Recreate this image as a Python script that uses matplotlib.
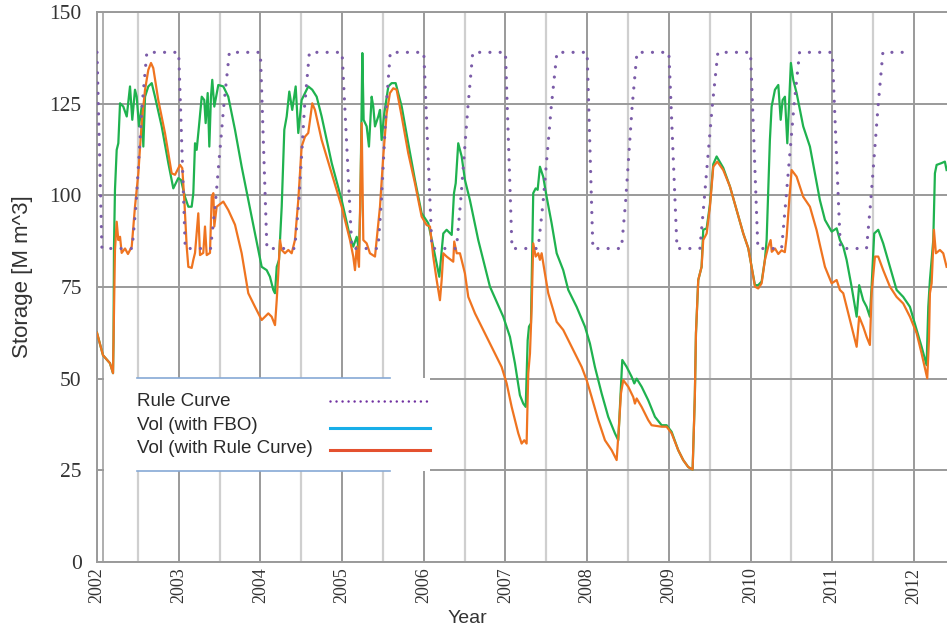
import matplotlib
matplotlib.use("Agg")
import matplotlib.pyplot as plt
from matplotlib.patches import Rectangle

# rule curve breakpoints (year, storage)
rule_year = [2002.00, 2002.06, 2002.43, 2002.48, 2002.55, 2002.61, 2003.00, 2003.08, 2003.39, 2003.45, 2003.55, 2003.62,
             2004.00, 2004.08, 2004.42, 2004.47, 2004.54, 2004.60, 2005.00, 2005.12, 2005.44, 2005.48, 2005.54, 2005.59,
             2006.00, 2006.10, 2006.40, 2006.45, 2006.54, 2006.60, 2007.00, 2007.08, 2007.40, 2007.46, 2007.56, 2007.63,
             2008.00, 2008.07, 2008.42, 2008.47, 2008.55, 2008.61, 2009.00, 2009.10, 2009.38, 2009.43, 2009.53, 2009.60,
             2010.00, 2010.09, 2010.38, 2010.43, 2010.53, 2010.60, 2011.00, 2011.10, 2011.42, 2011.47, 2011.56, 2011.62,
             2011.98]
rule_vol = [139, 85.5, 85.5, 98, 124, 139, 139, 85.5, 85.5, 98, 124, 139,
            139, 85.5, 85.5, 98, 124, 139, 139, 85.5, 85.5, 98, 124, 139,
            139, 85.5, 85.5, 98, 124, 139, 139, 85.5, 85.5, 98, 124, 139,
            139, 85.5, 85.5, 98, 124, 139, 139, 85.5, 85.5, 98, 124, 139,
            139, 85.5, 85.5, 98, 124, 139, 139, 85.5, 85.5, 98, 124, 139,
            139]

# storage with rule curve operation
rc_year = [2002.000, 2002.073, 2002.159, 2002.196, 2002.220, 2002.241, 2002.261, 2002.282, 2002.302, 2002.343, 2002.379,
           2002.425, 2002.465, 2002.506, 2002.547, 2002.588, 2002.628, 2002.661, 2002.689, 2002.750, 2002.832, 2002.914,
           2002.955, 2003.016, 2003.044, 2003.069, 2003.098, 2003.118, 2003.159, 2003.179, 2003.200, 2003.240, 2003.261,
           2003.301, 2003.322, 2003.343, 2003.383, 2003.404, 2003.424, 2003.436, 2003.465, 2003.546, 2003.607, 2003.689,
           2003.771, 2003.852, 2003.934, 2004.016, 2004.097, 2004.138, 2004.179, 2004.200, 2004.219, 2004.240, 2004.261,
           2004.301, 2004.342, 2004.383, 2004.423, 2004.464, 2004.505, 2004.546, 2004.586, 2004.635, 2004.668, 2004.750,
           2004.873, 2004.995, 2005.097, 2005.137, 2005.158, 2005.179, 2005.207, 2005.240, 2005.260, 2005.301, 2005.341,
           2005.403, 2005.423, 2005.464, 2005.504, 2005.546, 2005.586, 2005.627, 2005.668, 2005.730, 2005.810, 2005.892,
           2005.974, 2006.035, 2006.076, 2006.116, 2006.158, 2006.198, 2006.219, 2006.239, 2006.280, 2006.361, 2006.373,
           2006.403, 2006.443, 2006.504, 2006.545, 2006.627, 2006.790, 2006.953, 2007.015, 2007.076, 2007.157, 2007.198,
           2007.230, 2007.259, 2007.279, 2007.300, 2007.321, 2007.340, 2007.370, 2007.401, 2007.422, 2007.443, 2007.483,
           2007.524, 2007.627, 2007.707, 2007.810, 2007.933, 2007.994, 2008.055, 2008.136, 2008.218, 2008.300, 2008.361,
           2008.389, 2008.414, 2008.442, 2008.503, 2008.564, 2008.585, 2008.606, 2008.667, 2008.748, 2008.789, 2008.912,
           2008.973, 2009.034, 2009.115, 2009.176, 2009.237, 2009.291, 2009.318, 2009.332, 2009.360, 2009.401, 2009.421,
           2009.463, 2009.503, 2009.544, 2009.593, 2009.666, 2009.748, 2009.830, 2009.911, 2009.972, 2010.013, 2010.054,
           2010.094, 2010.136, 2010.176, 2010.217, 2010.246, 2010.260, 2010.300, 2010.340, 2010.380, 2010.420, 2010.442,
           2010.474, 2010.503, 2010.564, 2010.645, 2010.727, 2010.809, 2010.849, 2010.911, 2010.993, 2011.054, 2011.094,
           2011.135, 2011.217, 2011.299, 2011.330, 2011.379, 2011.421, 2011.461, 2011.482, 2011.523, 2011.563, 2011.624,
           2011.706, 2011.788, 2011.869, 2011.951, 2012.033, 2012.094, 2012.163, 2012.184, 2012.196, 2012.217, 2012.245,
           2012.269, 2012.318, 2012.359, 2012.400]
rc_vol = [62.5, 56.4, 54.2, 51.5, 85.0, 92.8, 87.8, 88.7, 84.3, 85.5, 84.0,
          86.0, 96.9, 106.0, 119.8, 128.8, 134.2, 136.1, 134.7, 126.0, 117.0, 106.0,
          105.6, 108.3, 107.4, 98.7, 86.0, 80.5, 80.2, 82.4, 84.3, 95.1, 83.7,
          84.3, 91.5, 83.7, 84.3, 99.6, 100.6, 91.5, 96.9, 98.3, 96.0, 92.0,
          84.2, 73.3, 69.6, 66.0, 67.8, 66.9, 64.6, 71.4, 78.7, 87.8, 85.1,
          84.2, 85.1, 84.2, 87.8, 98.7, 113.3, 116.0, 117.0, 125.1, 123.3, 115.1,
          106.0, 96.9, 87.8, 83.3, 79.6, 86.0, 80.5, 119.7, 87.8, 86.9, 84.2,
          83.3, 87.8, 96.9, 110.6, 122.4, 127.9, 129.2, 128.8, 121.5, 111.5, 103.3,
          94.2, 91.9, 91.5, 83.3, 76.9, 71.4, 76.9, 84.2, 83.3, 81.9, 87.4,
          84.2, 84.2, 78.7, 72.3, 67.8, 60.5, 53.2, 48.7, 42.3, 35.1, 32.3,
          33.2, 32.3, 51.4, 56.9, 69.6, 86.9, 83.3, 84.2, 82.4, 84.2, 78.7,
          73.3, 65.5, 63.3, 58.7, 53.2, 49.6, 45.0, 38.7, 33.2, 30.5, 27.8,
          36.9, 46.0, 49.6, 47.8, 45.0, 43.2, 44.6, 42.3, 38.7, 37.3, 36.9,
          36.9, 35.1, 30.5, 27.8, 25.9, 25.2, 45.0, 62.4, 76.9, 80.5, 87.8,
          89.6, 96.9, 107.8, 109.2, 106.9, 102.4, 96.0, 89.6, 85.6, 80.5, 75.1,
          74.6, 76.0, 82.4, 86.0, 87.8, 84.6, 85.5, 84.0, 85.0, 84.5, 88.7,
          98.7, 106.9, 105.1, 99.6, 96.9, 90.5, 86.5, 80.5, 76.0, 76.9, 74.2,
          73.3, 66.0, 58.7, 66.9, 64.2, 61.4, 59.2, 73.3, 83.3, 83.3, 79.6,
          75.1, 72.3, 70.5, 66.9, 62.4, 56.9, 50.1, 60.5, 73.3, 76.0, 90.6,
          84.2, 85.1, 84.2, 80.5]

# storage with FBO operation
fbo_year = [2002.000, 2002.073, 2002.159, 2002.196, 2002.202, 2002.208, 2002.220, 2002.241, 2002.261, 2002.282, 2002.322,
            2002.364, 2002.404, 2002.432, 2002.465, 2002.486, 2002.514, 2002.547, 2002.567, 2002.588, 2002.628, 2002.670,
            2002.710, 2002.792, 2002.873, 2002.934, 2002.995, 2003.028, 2003.077, 2003.118, 2003.159, 2003.179, 2003.200,
            2003.220, 2003.248, 2003.282, 2003.313, 2003.330, 2003.355, 2003.375, 2003.395, 2003.411, 2003.436, 2003.485,
            2003.546, 2003.607, 2003.689, 2003.771, 2003.852, 2003.934, 2004.016, 2004.077, 2004.117, 2004.158, 2004.179,
            2004.200, 2004.228, 2004.261, 2004.293, 2004.322, 2004.354, 2004.390, 2004.432, 2004.464, 2004.505, 2004.546,
            2004.586, 2004.635, 2004.689, 2004.750, 2004.873, 2004.995, 2005.097, 2005.137, 2005.179, 2005.207, 2005.223,
            2005.248, 2005.264, 2005.301, 2005.329, 2005.362, 2005.382, 2005.403, 2005.443, 2005.464, 2005.484, 2005.517,
            2005.566, 2005.607, 2005.656, 2005.730, 2005.810, 2005.892, 2005.974, 2006.055, 2006.116, 2006.158, 2006.190,
            2006.239, 2006.280, 2006.342, 2006.370, 2006.391, 2006.422, 2006.464, 2006.504, 2006.565, 2006.667, 2006.810,
            2006.973, 2007.055, 2007.116, 2007.177, 2007.218, 2007.248, 2007.272, 2007.288, 2007.312, 2007.340, 2007.370,
            2007.394, 2007.422, 2007.462, 2007.504, 2007.565, 2007.627, 2007.707, 2007.769, 2007.871, 2007.973, 2008.034,
            2008.095, 2008.177, 2008.258, 2008.340, 2008.381, 2008.430, 2008.484, 2008.545, 2008.577, 2008.606, 2008.667,
            2008.748, 2008.830, 2008.912, 2008.973, 2009.034, 2009.115, 2009.176, 2009.237, 2009.291, 2009.318, 2009.332,
            2009.360, 2009.401, 2009.421, 2009.463, 2009.503, 2009.544, 2009.585, 2009.666, 2009.748, 2009.830, 2009.911,
            2009.972, 2010.013, 2010.054, 2010.094, 2010.136, 2010.176, 2010.197, 2010.237, 2010.258, 2010.299, 2010.340,
            2010.369, 2010.393, 2010.421, 2010.450, 2010.470, 2010.494, 2010.523, 2010.564, 2010.645, 2010.727, 2010.788,
            2010.849, 2010.911, 2010.993, 2011.054, 2011.094, 2011.135, 2011.176, 2011.237, 2011.299, 2011.330, 2011.379,
            2011.421, 2011.461, 2011.482, 2011.514, 2011.563, 2011.624, 2011.706, 2011.788, 2011.869, 2011.951, 2012.033,
            2012.094, 2012.155, 2012.176, 2012.196, 2012.237, 2012.257, 2012.278, 2012.339, 2012.379, 2012.400]
fbo_vol = [62.5, 56.4, 54.2, 51.5, 60.0, 86.0, 101.5, 112.4, 114.2, 125.1, 124.2,
           121.5, 129.7, 120.6, 128.8, 126.9, 118.8, 124.2, 113.3, 126.9, 129.7, 130.6,
           126.9, 118.8, 108.8, 101.9, 104.7, 104.2, 99.6, 96.9, 96.9, 100.6, 114.2,
           112.4, 118.8, 126.9, 126.0, 119.7, 127.9, 113.3, 126.9, 131.5, 124.2, 130.1,
           129.7, 126.9, 117.9, 107.8, 98.7, 89.6, 80.5, 79.6, 77.8, 74.2, 73.3,
           80.5, 82.4, 96.9, 117.9, 121.5, 128.3, 123.3, 129.7, 117.0, 126.0, 127.9,
           129.7, 128.8, 126.9, 121.5, 108.8, 98.7, 88.7, 86.0, 88.7, 85.1, 96.9,
           138.8, 120.6, 118.8, 113.3, 126.9, 124.2, 118.8, 121.5, 123.3, 115.1, 122.4,
           129.7, 130.6, 130.6, 124.2, 114.2, 104.2, 95.1, 92.4, 86.0, 81.4, 77.8,
           89.6, 90.6, 89.2, 100.6, 103.3, 114.2, 110.6, 104.2, 98.7, 87.8, 75.1,
           66.9, 61.4, 54.2, 45.5, 43.2, 42.3, 60.5, 64.2, 65.1, 100.6, 101.9,
           101.5, 107.8, 105.1, 99.6, 92.4, 84.2, 79.6, 74.2, 69.6, 64.2, 59.6,
           53.2, 46.0, 39.6, 35.1, 33.2, 55.1, 53.2, 50.5, 48.7, 50.0, 47.8,
           44.1, 39.6, 37.3, 37.3, 35.5, 30.5, 27.8, 25.9, 25.2, 45.0, 62.4,
           76.9, 80.5, 90.6, 91.0, 97.5, 108.5, 110.6, 107.5, 102.4, 96.0, 89.6,
           85.6, 80.5, 75.5, 75.5, 76.5, 82.4, 87.8, 115.1, 124.2, 128.8, 130.1,
           120.6, 126.0, 126.9, 114.2, 124.2, 136.1, 131.5, 127.9, 118.8, 113.3, 106.0,
           98.7, 93.3, 90.1, 91.0, 87.8, 86.0, 82.4, 75.1, 66.9, 75.5, 71.4,
           69.6, 66.9, 75.1, 89.6, 90.6, 86.9, 80.5, 74.2, 72.3, 69.6, 63.3,
           58.7, 53.7, 69.6, 76.9, 87.8, 106.0, 108.3, 108.8, 109.2, 106.9]

years = list(range(2002, 2013))

W, H = 947, 631
fig = plt.figure(figsize=(W / 100, H / 100), dpi=100)
ax = fig.add_axes([97 / W, 1 - 562 / H, 850 / W, 550 / H])

purple = "#7b5ca8"
green = "#1fb24f"
orange = "#ef7420"

ax.plot(fbo_year, fbo_vol, color=green, lw=1.6, zorder=3)
ax.plot(rc_year, rc_vol, color=orange, lw=1.6, zorder=4)
ax.plot(rule_year, rule_vol, color=purple, lw=2.3, linestyle=(0, (0.01, 3.2)),
        dash_capstyle="round", zorder=5)

ax.set_xlim(2002, 2012.405)
ax.set_ylim(0, 150)
ax.set_xticks(years)
ax.set_xticklabels([str(y) for y in years], rotation=90, family="Liberation Serif", fontsize=13, color="#333333")
ax.set_xticks([y + 0.5 for y in years[:-1]], minor=True)
ax.set_yticks([0, 25, 50, 75, 100, 125, 150])
ax.set_yticklabels(["0", "25", "50", "75", "100", "125", "150"], family="Liberation Serif", fontsize=15.5, color="#333333")
ax.tick_params(axis="both", which="both", length=0)
ax.tick_params(axis="y", pad=11)
ax.tick_params(axis="x", pad=4)

ax.grid(True, which="major", color="#9a9a9a", lw=1.4, zorder=0)
ax.grid(True, which="minor", axis="x", color="#cfcfcf", lw=1.6, zorder=0)
ax.axvline(2002.07, color="#a8a8a8", lw=1.3, zorder=0)
ax.set_axisbelow(True)

for s in ["left", "bottom", "top"]:
    ax.spines[s].set_color("#9a9a9a")
    ax.spines[s].set_linewidth(1.4)
ax.spines["right"].set_visible(False)

ax.set_ylabel("Storage [M m^3]", family="Liberation Sans", fontsize=16, color="#333333")
ax.yaxis.set_label_coords(-0.075, 0.518)
ax.set_xlabel("Year", family="Liberation Sans", fontsize=14, color="#333333")
ax.xaxis.set_label_coords(0.436, -0.088)

# hand-made legend box
tr = ax.transAxes
ax.add_patch(Rectangle((0.008, 0.166), 0.384, 0.168, transform=tr, facecolor="white",
                       edgecolor="none", zorder=8, clip_on=False))
for yy in [0.3345, 0.1655]:
    ax.plot([0.047, 0.345], [yy, yy], transform=tr, color="#86a9d6", lw=1.2, zorder=9)
labels = ["Rule Curve", "Vol (with FBO)", "Vol (with Rule Curve)"]
text_y = [0.2915, 0.2473, 0.2055]
for lab, ty in zip(labels, text_y):
    ax.text(0.047, ty, lab, transform=tr, family="Liberation Sans", fontsize=13.5,
            color="#2a2a2a", va="center", ha="left", zorder=10)
ax.plot([0.274, 0.392], [0.292, 0.292], transform=tr, color="#7030a0", lw=1.8,
        linestyle=(0, (0.01, 2.4)), dash_capstyle="round", zorder=10)
ax.plot([0.274, 0.392], [0.2442, 0.2442], transform=tr, color="#18aee8", lw=2.2, zorder=10)
ax.plot([0.274, 0.392], [0.2042, 0.2042], transform=tr, color="#e4512f", lw=2.2, zorder=10)

fig.savefig("out.png", dpi=100)
